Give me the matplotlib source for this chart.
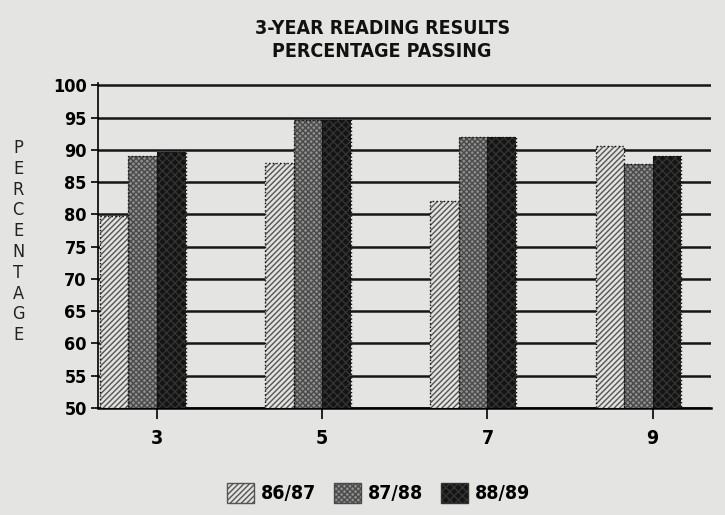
import numpy as np
import matplotlib
matplotlib.use('Agg')
import matplotlib.pyplot as plt
from matplotlib.patches import Patch

# data
grades = ['3', '5', '7', '9']
yr_8687 = [79.8, 87.9, 82.0, 90.6]
yr_8788 = [89.0, 94.7, 92.0, 87.8]
yr_8889 = [89.6, 94.7, 92.0, 89.0]
series_names = ['86/87', '87/88', '88/89']
yticks = [50, 55, 60, 65, 70, 75, 80, 85, 90, 95, 100]

BG = '#e4e4e2'

plt.rcParams['font.family'] = ['DejaVu Sans']
plt.rcParams['font.stretch'] = 'condensed'
plt.rcParams['font.weight'] = 'bold'
plt.rcParams['hatch.linewidth'] = 1.0

fig = plt.figure(figsize=(7.25, 5.15), dpi=100, facecolor=BG)
ax = fig.add_axes([0.135, 0.208, 0.845, 0.63])
ax.set_facecolor(BG)

x = np.arange(len(grades))
w = 0.173
styles = [
    dict(face='#e2e2e0', hatch='//////', hcol='#555555'),
    dict(face='#8e8e8e', hatch='xxxxxx', hcol='#4a4a4a'),
    dict(face='#141414', hatch='xxxx', hcol='#333333'),
]
offsets = [-1.5 * w, -0.5 * w, 0.5 * w]
for vals, off, st in zip([yr_8687, yr_8788, yr_8889], offsets, styles):
    heights = np.array(vals) - 50
    ax.bar(x + off, heights, width=w, bottom=50, color=st['face'],
           hatch=st['hatch'], edgecolor=st['hcol'], linewidth=0, zorder=3)
    ax.bar(x + off, heights, width=w, bottom=50, fill=False,
           edgecolor='#111111', linewidth=1.0, linestyle=':', zorder=4)

ax.set_xlim(-0.358, 3.35)
ax.set_ylim(50, 100.3)
ax.set_yticks(yticks)
ax.set_yticklabels([str(v) for v in yticks], fontsize=13, fontweight='bold')
ax.set_xticks(x)
ax.set_xticklabels(grades, fontsize=14, fontweight='bold')
ax.tick_params(axis='y', length=5, width=1.2, pad=3)
ax.tick_params(axis='x', length=8, width=1.2, pad=7)

ax.yaxis.grid(True, color='#161616', linewidth=1.8)
ax.set_axisbelow(True)
for side in ['top', 'right']:
    ax.spines[side].set_visible(False)
ax.spines['left'].set_linewidth(1.2)
ax.spines['bottom'].set_linewidth(1.8)

fig.text(0.527, 0.922, '3-YEAR READING RESULTS\nPERCENTAGE PASSING',
         ha='center', va='center', fontsize=14, fontweight='bold',
         linespacing=1.3, color='#111111')

fig.text(0.025, 0.531, '\n'.join('PERCENTAGE'), ha='center', va='center',
         fontsize=13, fontweight='normal', linespacing=1.2, color='#222222')

handles = [Patch(facecolor=st['face'], edgecolor=st['hcol'], hatch=st['hatch'])
           for st in styles]
fig.legend(handles, series_names, loc='center', bbox_to_anchor=(0.522, 0.043),
           ncol=3, frameon=False, fontsize=14, handlelength=1.4,
           handleheight=1.2, columnspacing=0.9, handletextpad=0.35)

fig.savefig('out.png', dpi=100, facecolor=BG)
